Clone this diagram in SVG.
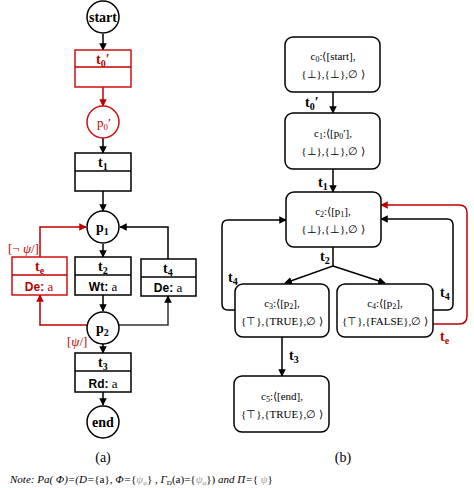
<svg xmlns="http://www.w3.org/2000/svg" width="474" height="488" viewBox="0 0 474 488">
<style>
.k{fill:none;stroke:#000;stroke-width:1.5}
.r{fill:none;stroke:#c00000;stroke-width:1.5}
.g{fill:none;stroke:#333;stroke-width:1.5}
.box{fill:#fff;stroke:#000;stroke-width:1.5}
.rbox{fill:#fff;stroke:#d01010;stroke-width:1.5}
.st{fill:#fff;stroke:#000;stroke-width:1.5}
.tl{font-family:"Liberation Serif","Times New Roman",serif;font-weight:bold;font-size:14px;fill:#000}
.sm{font-family:"Liberation Serif","Times New Roman",serif;font-size:11px;fill:#000}
.sb{font-family:"Liberation Sans",Arial,sans-serif;font-weight:bold;font-size:12px}
.se{font-family:"Liberation Serif","Times New Roman",serif;font-size:13px}
.red{fill:#c00000}
</style>
<defs>
<marker id="a" viewBox="0 0 10 10" refX="9" refY="5" markerWidth="5" markerHeight="5" orient="auto"><path d="M0,0L10,5L0,10z" fill="#000"/></marker>
<marker id="ar" viewBox="0 0 10 10" refX="9" refY="5" markerWidth="5" markerHeight="5" orient="auto"><path d="M0,0L10,5L0,10z" fill="#c00000"/></marker>
</defs>
<g id="connectors">
<line class="k" x1="103" y1="34" x2="103" y2="50" marker-end="url(#a)"/>
<line class="r" x1="103" y1="87" x2="103" y2="106" marker-end="url(#ar)"/>
<line class="k" x1="103" y1="138" x2="103" y2="153" marker-end="url(#a)"/>
<line class="k" x1="103" y1="191" x2="103" y2="211" marker-end="url(#a)"/>
<line class="k" x1="103" y1="244" x2="103" y2="257" marker-end="url(#a)"/>
<path class="r" d="M40,257V227H86" marker-end="url(#ar)"/>
<path class="k" d="M168,259V227H120" marker-end="url(#a)"/>
<line class="k" x1="103" y1="295" x2="103" y2="311" marker-end="url(#a)"/>
<path class="r" d="M87,325H40V295" marker-end="url(#ar)"/>
<path class="g" d="M119,325H168V296" marker-end="url(#a)"/>
<line class="k" x1="103" y1="344" x2="103" y2="353" marker-end="url(#a)"/>
<line class="k" x1="103" y1="392" x2="103" y2="405" marker-end="url(#a)"/>
<line class="k" x1="333" y1="92" x2="333" y2="113" marker-end="url(#a)"/>
<line class="k" x1="333" y1="169" x2="333" y2="192" marker-end="url(#a)"/>
<path class="k" d="M333,247V266L285,283" marker-end="url(#a)"/>
<path class="k" d="M333,266L385,283" marker-end="url(#a)"/>
<path class="k" d="M235,310H228Q222,310 222,304V226Q222,220 228,220H286" marker-end="url(#a)"/>
<path class="k" d="M433,310H447Q453,310 453,304V225Q453,219 447,219H381" marker-end="url(#a)"/>
<path class="r" d="M433,324H459Q467,324 467,316V213Q467,205 459,205H381" marker-end="url(#ar)"/>
<line class="k" x1="282" y1="337" x2="282" y2="376" marker-end="url(#a)"/>
</g>
<g id="start"><circle class="st" cx="103" cy="17" r="16"/><text class="tl" x="103" y="22" text-anchor="middle">start</text></g>
<g id="t0p"><rect class="rbox" x="75" y="50" width="56" height="37"/><line class="r" x1="75" y1="67" x2="131" y2="67"/><text class="tl red" x="96" y="64">t<tspan font-size="10" dy="3">0</tspan><tspan dy="-3">′</tspan></text></g>
<g id="p0p"><circle class="rbox" cx="103" cy="122" r="16"/><text class="se red" x="97" y="127">p<tspan font-size="9" dy="3">0</tspan><tspan dy="-3">′</tspan></text></g>
<g id="t1"><rect class="box" x="75" y="153" width="56" height="38"/><line class="k" x1="75" y1="171" x2="131" y2="171"/><text class="tl" x="98" y="167">t<tspan font-size="10" dy="3">1</tspan></text></g>
<g id="p1"><circle class="st" cx="103" cy="227" r="16"/><text class="tl" x="96" y="232">p<tspan font-size="10" dy="3">1</tspan></text></g>
<g id="te"><rect class="rbox" x="12" y="257" width="55" height="38"/><line class="r" x1="12" y1="275" x2="67" y2="275"/><text class="tl red" x="35" y="271">t<tspan font-size="10" dy="3">e</tspan></text><text x="39" y="291" text-anchor="middle" class="red"><tspan class="sb">De:</tspan><tspan class="se"> a</tspan></text><text class="se red" x="8" y="253" font-size="12">[¬ <tspan font-style="italic">ψ</tspan>/]</text></g>
<g id="t2"><rect class="box" x="75" y="257" width="56" height="38"/><line class="k" x1="75" y1="275" x2="131" y2="275"/><text class="tl" x="98" y="271">t<tspan font-size="10" dy="3">2</tspan></text><text x="103" y="291" text-anchor="middle"><tspan class="sb">Wt:</tspan><tspan class="se"> a</tspan></text></g>
<g id="t4"><rect class="box" x="141" y="259" width="55" height="37"/><line class="k" x1="141" y1="277" x2="196" y2="277"/><text class="tl" x="163" y="273">t<tspan font-size="10" dy="3">4</tspan></text><text x="168" y="292" text-anchor="middle"><tspan class="sb">De:</tspan><tspan class="se"> a</tspan></text></g>
<g id="p2"><circle class="st" cx="103" cy="328" r="16"/><text class="tl" x="96" y="333">p<tspan font-size="10" dy="3">2</tspan></text><text class="se red" x="67" y="346" font-size="12">[<tspan font-style="italic">ψ</tspan>/]</text></g>
<g id="t3"><rect class="box" x="75" y="353" width="56" height="39"/><line class="k" x1="75" y1="371" x2="131" y2="371"/><text class="tl" x="98" y="367">t<tspan font-size="10" dy="3">3</tspan></text><text x="103" y="388" text-anchor="middle"><tspan class="sb">Rd:</tspan><tspan class="se"> a</tspan></text></g>
<g id="end"><circle class="st" cx="103" cy="422" r="16"/><text class="tl" x="103" y="427" text-anchor="middle">end</text></g>
<text x="103" y="462" text-anchor="middle" font-family="Liberation Serif,serif" font-size="14">(a)</text>
<g id="c0"><rect class="box" x="285" y="37" width="95" height="55" rx="8"/><text class="sm" x="333" y="60" text-anchor="middle">c<tspan font-size="8" dy="2">0</tspan><tspan dy="-2">:⟨[start],</tspan></text><text class="sm" x="333" y="78" text-anchor="middle">{⊥},{⊥},∅ ⟩</text></g>
<text class="tl" x="305" y="107">t<tspan font-size="10" dy="3">0</tspan><tspan dy="-3">′</tspan></text>
<g id="c1"><rect class="box" x="285" y="113" width="95" height="56" rx="8"/><text class="sm" x="333" y="137" text-anchor="middle">c<tspan font-size="8" dy="2">1</tspan><tspan dy="-2">:⟨[p</tspan><tspan font-size="8" dy="2">0</tspan><tspan dy="-2">′],</tspan></text><text class="sm" x="333" y="155" text-anchor="middle">{⊥},{⊥},∅ ⟩</text></g>
<text class="tl" x="318" y="187">t<tspan font-size="10" dy="3">1</tspan></text>
<g id="c2"><rect class="box" x="286" y="192" width="95" height="55" rx="8"/><text class="sm" x="333" y="215" text-anchor="middle">c<tspan font-size="8" dy="2">2</tspan><tspan dy="-2">:⟨[p</tspan><tspan font-size="8" dy="2">1</tspan><tspan dy="-2">],</tspan></text><text class="sm" x="333" y="233" text-anchor="middle">{⊥},{⊥},∅ ⟩</text></g>
<text class="tl" x="320" y="261">t<tspan font-size="10" dy="3">2</tspan></text>
<text class="tl" x="228" y="282">t<tspan font-size="10" dy="3">4</tspan></text>
<text class="tl" x="440" y="297">t<tspan font-size="10" dy="3">4</tspan></text>
<text class="tl red" x="440" y="341">t<tspan font-size="10" dy="3">e</tspan></text>
<g id="c3"><rect class="box" x="235" y="284" width="94" height="53" rx="8"/><text class="sm" x="282" y="307" text-anchor="middle">c<tspan font-size="8" dy="2">3</tspan><tspan dy="-2">:⟨[p</tspan><tspan font-size="8" dy="2">2</tspan><tspan dy="-2">],</tspan></text><text class="sm" x="282" y="325" text-anchor="middle">{⊤},{TRUE},∅ ⟩</text></g>
<g id="c4"><rect class="box" x="337" y="284" width="96" height="53" rx="8"/><text class="sm" x="385" y="307" text-anchor="middle">c<tspan font-size="8" dy="2">4</tspan><tspan dy="-2">:⟨[p</tspan><tspan font-size="8" dy="2">2</tspan><tspan dy="-2">],</tspan></text><text class="sm" x="385" y="325" text-anchor="middle">{⊤},{FALSE},∅ ⟩</text></g>
<text class="tl" x="289" y="360">t<tspan font-size="10" dy="3">3</tspan></text>
<g id="c5"><rect class="box" x="234" y="376" width="95" height="56" rx="8" stroke-width="2.2"/><text class="sm" x="282" y="400" text-anchor="middle">c<tspan font-size="8" dy="2">5</tspan><tspan dy="-2">:⟨[end],</tspan></text><text class="sm" x="282" y="418" text-anchor="middle">{⊤},{TRUE},∅ ⟩</text></g>
<text x="343" y="462" text-anchor="middle" font-family="Liberation Serif,serif" font-size="14">(b)</text>
<text x="10" y="483" font-family="Liberation Serif,serif" font-size="11" font-style="italic">Note: Pa( Φ)=(D=<tspan font-style="normal">{a},</tspan> Φ=<tspan font-style="normal">{</tspan><tspan fill="#999">ψ<tspan font-size="7" dy="2">φ</tspan></tspan><tspan font-style="normal" dy="-2">} ,</tspan> Γ<tspan font-size="7" dy="2" font-style="normal">D</tspan><tspan font-style="normal" dy="-2">(a)={</tspan><tspan fill="#999">ψ<tspan font-size="7" dy="2">φ</tspan></tspan><tspan font-style="normal" dy="-2">})</tspan> and Π=<tspan font-style="normal">{</tspan><tspan fill="#999"> ψ</tspan><tspan font-style="normal">}</tspan></text>
</svg>
